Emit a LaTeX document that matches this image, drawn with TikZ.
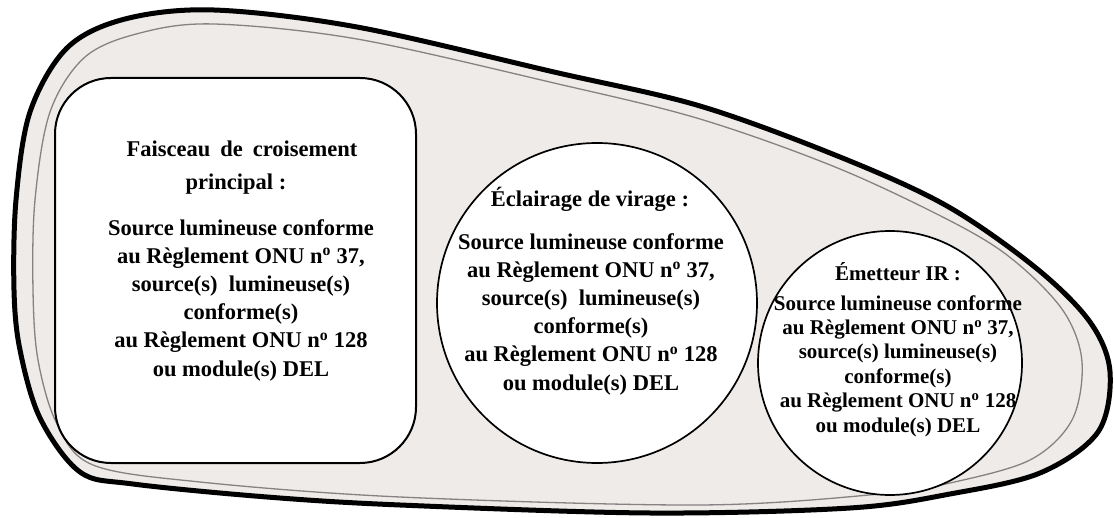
\documentclass[tikz,border=0pt]{standalone}
\usepackage{fontspec}
\setmainfont{Liberation Serif}
\definecolor{shellfill}{HTML}{EEEBE9}
\definecolor{innerline}{HTML}{858281}
\tikzset{
  shell/.style={draw=black, line width=5pt, fill=shellfill, line join=round},
  innershell/.style={draw=innerline, line width=1.3pt},
  lampbox/.style={draw=black, line width=2pt, fill=white, rounded corners=56pt, inner sep=0pt},
  lampcircle/.style={draw=black, line width=1.7pt, fill=white, circle, inner sep=0pt},
  txt/.style={align=center, inner sep=0pt, font=\bfseries\fontsize{22.5}{28.2}\selectfont},
  txtsmall/.style={align=center, inner sep=0pt, font=\bfseries\fontsize{21}{24.4}\selectfont},
}
\begin{document}
\begin{tikzpicture}[x=1pt, y=-1pt]
\useasboundingbox (0,0) rectangle (1114,518);
% outer lamp shell
\draw[shell] plot[smooth cycle, tension=0.55] coordinates {
  (14,290) (16,200) (30,112) (67,48) (125,19) (214,10) (357,27) (554,72)
  (700,106) (840,157) (947,206) (1036,268) (1090,322) (1110,372) (1098,432)
  (1040,473) (950,494) (850,508) (650,513) (400,505) (267,497) (133,484)
  (80,472) (40,418) (20,350)};
% inner thin line
\draw[innershell] plot[smooth cycle, tension=0.55] coordinates {
  (33,290) (35,200) (50,112) (85,57) (140,33) (214,24) (357,39) (554,83)
  (700,119) (840,169) (960,226) (1017,263) (1064,312) (1082,362) (1072,420)
  (1030,460) (950,483) (880,494) (700,505) (400,497) (200,482) (93,465)
  (57,424) (38,360)};
% lamp units
\node[lampbox, minimum width=361pt, minimum height=385pt] (box) at (235.5,270.5) {};
\node[lampcircle, minimum size=320pt] (turn) at (597,303) {};
\node[lampcircle, minimum size=264pt] (ir) at (890,363) {};
% texts
\node[txt] (boxtitleA) at (242,149) {Faisceau\hspace{10pt}de\hspace{10pt}croisement};
\node[txt] (boxtitleB) at (236,184) {principal :};
\node[txt] (boxbody) at (241,300) {Source lumineuse conforme\\au Règlement ONU n\textsuperscript{o} 37,\\source(s)\ \ lumineuse(s)\\conforme(s)\\au Règlement ONU n\textsuperscript{o} 128\\ou module(s) DEL};
\node[txt] (turntitle) at (590,199) {Éclairage de virage :};
\node[txt] (turnbody) at (591,314) {Source lumineuse conforme\\au Règlement ONU n\textsuperscript{o} 37,\\source(s)\ \ lumineuse(s)\\conforme(s)\\au Règlement ONU n\textsuperscript{o} 128\\ou module(s) DEL};
\node[txtsmall] (irtitle) at (898,272) {Émetteur IR :};
\node[txtsmall] (irbody) at (898,366) {Source lumineuse conforme\\au Règlement ONU n\textsuperscript{o} 37,\\source(s) lumineuse(s)\\conforme(s)\\au Règlement ONU n\textsuperscript{o} 128\\ou module(s) DEL};
\end{tikzpicture}
\end{document}
